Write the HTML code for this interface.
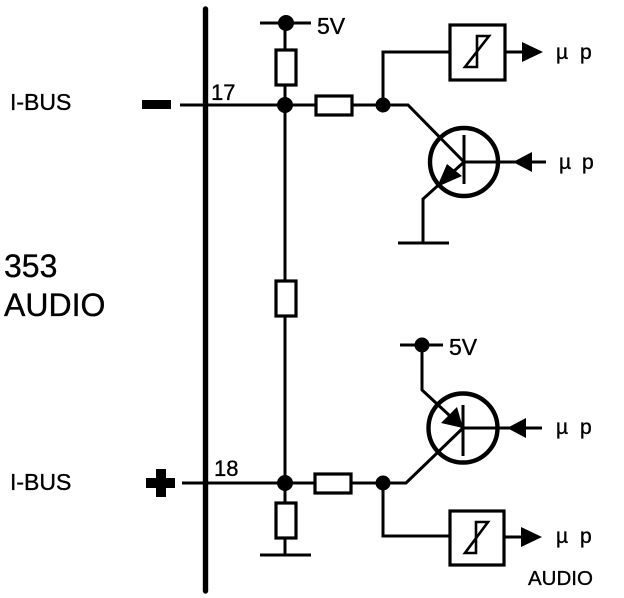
<!DOCTYPE html>
<html>
<head>
<meta charset="utf-8">
<style>
html,body{margin:0;padding:0;background:#fff;}
svg{display:block;}
text{font-family:"Liberation Sans",sans-serif;fill:#000;stroke:#000;stroke-width:0.35;}
</style>
</head>
<body>
<svg width="624" height="598" viewBox="0 0 624 598" xmlns="http://www.w3.org/2000/svg">
<rect width="624" height="598" fill="#fff"/>
<!-- bus -->
<line x1="205.5" y1="9" x2="205.5" y2="591" stroke="#000" stroke-width="5.4" stroke-linecap="round"/>
<g fill="none" stroke="#000" stroke-width="3">
<!-- main wires -->
<path d="M180 105H408L464 162"/>
<path d="M182 483H406L463 428"/>
<path d="M285 23V483"/>
<path d="M285 483V555"/>
<path d="M260 23H311"/>
<path d="M260 555H311"/>
<!-- top branch -->
<path d="M383 105V52H449"/>
<path d="M506 52H525"/>
<path d="M464 162L423 199V243"/>
<path d="M398 243H449"/>
<path d="M464 162H546"/>
<!-- bottom branch -->
<path d="M383 483V536H449"/>
<path d="M505 537H525"/>
<path d="M400 345H443"/>
<path d="M422 345V390L463 428"/>
<path d="M463 428H542"/>
</g>
<!-- resistors -->
<g fill="#fff" stroke="#000" stroke-width="3.2">
<rect x="276" y="50" width="20" height="35"/>
<rect x="276" y="281" width="20" height="35"/>
<rect x="276" y="503" width="20" height="35"/>
<rect x="316" y="96" width="36" height="19"/>
<rect x="315" y="474" width="36" height="19"/>
</g>
<!-- boxes -->
<g fill="none" stroke="#000" stroke-width="3.2">
<rect x="450" y="25" width="55" height="55"/>
<rect x="450" y="511" width="54" height="54"/>
</g>
<g fill="none" stroke="#000" stroke-width="2.6">
<path d="M489 36H477V67H465L489 36Z"/>
<path d="M488 522H476V553H465L488 522Z"/>
</g>
<!-- transistors -->
<g fill="none" stroke="#000" stroke-width="4.4">
<circle cx="464" cy="162" r="34"/>
<circle cx="463" cy="428" r="34.5"/>
</g>
<g stroke="#000" stroke-width="3">
<line x1="464" y1="135" x2="464" y2="184"/>
<line x1="463" y1="405" x2="463" y2="456"/>
</g>
<!-- dots -->
<g fill="#000">
<circle cx="286" cy="23" r="8"/>
<circle cx="285" cy="105" r="8"/>
<circle cx="285" cy="483" r="8"/>
<circle cx="383" cy="105" r="7.5"/>
<circle cx="383" cy="483" r="7.5"/>
<circle cx="422" cy="345" r="7.5"/>
<!-- arrowheads -->
<path d="M522 42L543 52L522 62Z"/>
<path d="M513 162L532 152V172Z"/>
<path d="M521 527L542 537L521 547Z"/>
<path d="M507 428L526 418V438Z"/>
<path d="M437 187L447 164L462 176Z"/>
<path d="M463 428L441 423L457 407Z"/>
<!-- minus & plus -->
<rect x="142" y="100" width="29" height="9"/>
<rect x="146" y="478" width="29" height="10"/>
<rect x="156" y="469" width="10" height="28"/>
</g>
<!-- labels -->
<g>
<text x="10" y="110" font-size="23">I-BUS</text>
<text x="10" y="490" font-size="23">I-BUS</text>
<text x="4" y="277" font-size="32">353</text>
<text x="4" y="316" font-size="32">AUDIO</text>
<text x="211" y="100" font-size="22">17</text>
<text x="214" y="476" font-size="22">18</text>
<text x="317" y="34" font-size="23">5V</text>
<text x="449" y="355" font-size="23">5V</text>
<text y="59" font-size="21"><tspan x="556">µ</tspan><tspan x="580">p</tspan></text>
<text y="169" font-size="21"><tspan x="559">µ</tspan><tspan x="582">p</tspan></text>
<text y="434" font-size="21"><tspan x="556">µ</tspan><tspan x="580">p</tspan></text>
<text y="543" font-size="21"><tspan x="556">µ</tspan><tspan x="580">p</tspan></text>
<text x="528" y="585" font-size="20.5">AUDIO</text>
</g>
</svg>
</body>
</html>
